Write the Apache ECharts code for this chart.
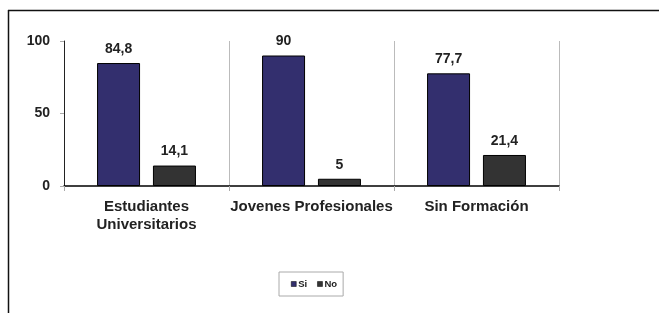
<!DOCTYPE html>
<html>
<head>
<meta charset="utf-8">
<script src="https://cdn.jsdelivr.net/npm/echarts@6/dist/echarts.min.js"></script>
<style>html,body{margin:0;padding:0;background:#fff}#c{width:659px;height:313px}</style>
</head>
<body>
<div id="c"></div>
<script>
const categories = ['Estudiantes\nUniversitarios', 'Jovenes Profesionales', 'Sin Formación'];
const siValues = [84.8, 90, 77.7];
const noValues = [14.1, 5, 21.4];
const yTicks = [0, 50, 100];

const FONT = 'Liberation Sans, Arial, sans-serif';
const chart = echarts.init(document.getElementById('c'), null, {renderer: 'canvas'});
const lbl = {
  show: true, position: 'top', distance: 7,
  fontFamily: FONT, fontWeight: 'bold', fontSize: 14, color: '#222',
  formatter: p => String(p.value).replace('.', ',')
};
chart.setOption({
  animation: false,
  grid: {left: 64, right: 100, top: 41, bottom: 127},
  legend: {
    left: 279, top: 272,
    padding: [7, 6, 7, 12], itemGap: 10,
    borderColor: '#aaa', borderWidth: 1,
    itemWidth: 5, itemHeight: 5,
    icon: 'rect',
    itemStyle: {borderColor: '#000', borderWidth: 0.5},
    textStyle: {fontFamily: FONT, fontWeight: 'bold', fontSize: 9.5, color: '#222', padding: [0,0,0,-3]},
    data: ['Si', 'No']
  },
  xAxis: {
    type: 'category', data: categories,
    axisLine: {lineStyle: {color: '#000', width: 1.5}},
    axisTick: {show: true, length: 5, lineStyle: {color: '#aaa'}},
    splitLine: {show: true, lineStyle: {color: '#bbb', width: 1}},
    axisLabel: {interval: 0, margin: 12, fontFamily: FONT, fontWeight: 'bold', fontSize: 15, color: '#222', lineHeight: 18}
  },
  yAxis: {
    type: 'value', min: yTicks[0], max: yTicks[yTicks.length-1], interval: yTicks[1]-yTicks[0],
    axisLine: {show: true, lineStyle: {color: '#222', width: 1}},
    axisTick: {show: true, length: 4, lineStyle: {color: '#aaa'}},
    splitLine: {show: false},
    axisLabel: {margin: 14, fontFamily: FONT, fontWeight: 'bold', fontSize: 14, color: '#222'}
  },
  series: [
    {name: 'Si', type: 'bar', data: siValues, barWidth: 43, barGap: '30%',
     itemStyle: {color: '#332f6e', borderColor: '#000', borderWidth: 1}, label: lbl},
    {name: 'No', type: 'bar', data: noValues, barWidth: 43,
     itemStyle: {color: '#333333', borderColor: '#000', borderWidth: 1}, label: lbl}
  ],
  graphic: [
    {type: 'line', shape: {x1: 8, y1: 10.5, x2: 659, y2: 10.5}, style: {stroke: '#111', lineWidth: 1.5}, silent: true},
    {type: 'line', shape: {x1: 8.5, y1: 10, x2: 8.5, y2: 313}, style: {stroke: '#111', lineWidth: 1.5}, silent: true}
  ]
});
</script>
</body>
</html>
